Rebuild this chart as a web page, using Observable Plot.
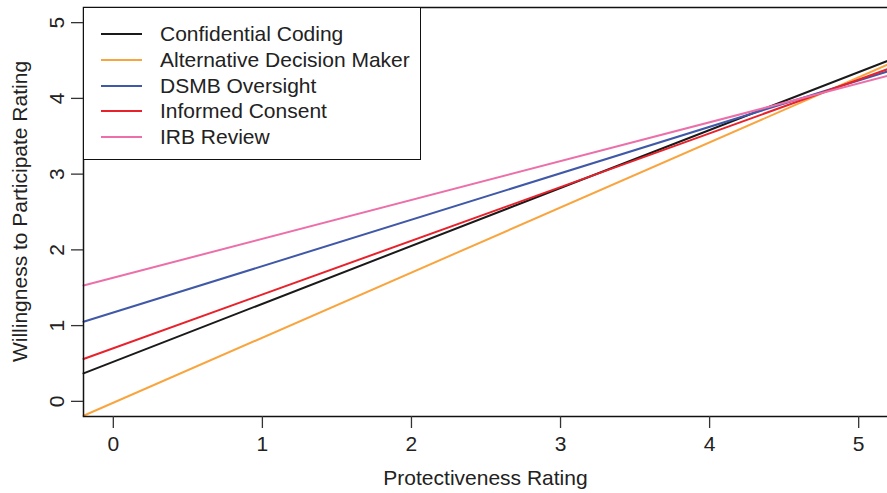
<!DOCTYPE html>
<html>
<head>
<meta charset="utf-8">
<script src="https://cdn.jsdelivr.net/npm/d3@7"></script>
<script src="https://cdn.jsdelivr.net/npm/@observablehq/plot@0.6"></script>
<style>
  html, body { margin: 0; padding: 0; background: #fff; }
  #wrap { position: relative; width: 887px; height: 493px; overflow: hidden; font-family: "Liberation Sans", Arial, Helvetica, sans-serif; }
  #legend { position: absolute; left: 83px; top: 7px; width: 336px; height: 151px; background: #fff; border: 1.5px solid #111; box-sizing: content-box; }
  .row { position: absolute; left: 0; height: 26px; display: flex; align-items: center; font-size: 21px; color: #222; white-space: nowrap; }
  .swatch { width: 41px; height: 0; border-top: 2px solid; margin-left: 17px; margin-right: 18px; }
</style>
</head>
<body>
<div id="wrap"></div>
<script>
const series = ["Confidential Coding", "Alternative Decision Maker", "DSMB Oversight", "Informed Consent", "IRB Review"];
const colors = ["#1a1a1a", "#f9a53f", "#4058a8", "#e8212b", "#ec6fa9"];
const xEnds = [-0.2, 5.2];
const yLeft = [0.37, -0.19, 1.05, 0.56, 1.53];
const yRight = [4.50, 4.45, 4.36, 4.39, 4.30];
const xTicks = [0, 1, 2, 3, 4, 5];
const yTicks = [0, 1, 2, 3, 4, 5];

const rows = [];
series.forEach((s, i) => {
  rows.push({series: s, x: xEnds[0], y: yLeft[i]});
  rows.push({series: s, x: xEnds[1], y: yRight[i]});
});

const chart = Plot.plot({
  width: 887,
  height: 493,
  marginLeft: 83,
  marginTop: 7,
  marginRight: -1,
  marginBottom: 77,
  style: {fontFamily: '"Liberation Sans", Arial, Helvetica, sans-serif', fontSize: "21px", color: "#222", background: "#fff"},
  x: {domain: [-0.2, 5.2]},
  y: {domain: [-0.2, 5.2]},
  color: {domain: series, range: colors},
  marks: [
    Plot.line(rows, {x: "x", y: "y", z: "series", stroke: "series", strokeWidth: 2}),
    Plot.frame({stroke: "#111", strokeWidth: 1.5}),
    Plot.axisX({ticks: xTicks, tickFormat: d3.format("d"), tickSize: 12, tickPadding: 8, stroke: "#333", strokeWidth: 1.3, label: null}),
    Plot.axisY({ticks: yTicks, tickFormat: d3.format("d"), tickSize: 12, tickPadding: 8, tickRotate: -90, stroke: "#333", strokeWidth: 1.3, label: null})
  ]
});

const wrap = document.getElementById("wrap");
wrap.appendChild(chart);

// Axis titles
const svg = d3.select(chart);
const xs = chart.scale("x"), ys = chart.scale("y");
const xMid = (xs.range[0] + xs.range[1]) / 2;
const yMid = (ys.range[0] + ys.range[1]) / 2;
svg.append("text").attr("x", xMid).attr("y", 485).attr("text-anchor", "middle")
  .attr("fill", "#222").style("font-size", "21px").text("Protectiveness Rating");
svg.append("text").attr("transform", `translate(27,${yMid}) rotate(-90)`).attr("text-anchor", "middle")
  .attr("fill", "#222").style("font-size", "21px").text("Willingness to Participate Rating");

// Legend
const legend = document.createElement("div");
legend.id = "legend";
series.forEach((s, i) => {
  const r = document.createElement("div");
  r.className = "row";
  r.style.top = (13 + i * 25.8) + "px";
  r.innerHTML = `<span class="swatch" style="border-color:${colors[i]}"></span><span>${s}</span>`;
  legend.appendChild(r);
});
wrap.appendChild(legend);
</script>
</body>
</html>
